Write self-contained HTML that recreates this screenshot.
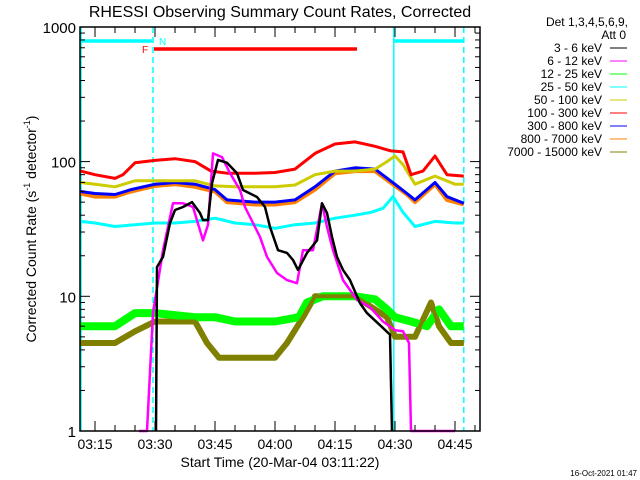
<!DOCTYPE html>
<html><head><meta charset="utf-8"><style>
body{margin:0;background:#fff;}
svg{display:block;font-family:"Liberation Sans",sans-serif;}
</style></head><body>
<svg id="chart" width="640" height="480" viewBox="0 0 640 480" xmlns="http://www.w3.org/2000/svg">
<rect x="0" y="0" width="640" height="480" fill="#fff"/>
<text x="280" y="17" font-size="16" text-anchor="middle" fill="#000">RHESSI Observing Summary Count Rates, Corrected</text>
<text transform="translate(36,229) rotate(-90)" font-size="14" text-anchor="middle" fill="#000">Corrected Count Rate (s<tspan font-size="9" dy="-6">-1</tspan><tspan dy="6"> detector</tspan><tspan font-size="9" dy="-6">-1</tspan><tspan dy="6">)</tspan></text>
<text x="280" y="467" font-size="14" text-anchor="middle" fill="#000">Start Time (20-Mar-04 03:11:22)</text>
<text x="637" y="476" font-size="8" text-anchor="end" fill="#000">16-Oct-2021 01:47</text>
<g id="plot"></g>
<g id="axes"></g>
<g id="legend"></g>
</svg>
<script>
const blackT=[30.25,30.5,32,33.75,35,37,39.25,41.25,42,43.25,44.25,45.75,48,50.5,52,55.5,57.5,58.75,60.75,63,64.5,65.75,68,70.5,71.75,73,74.25,75.5,77,78.75,81.25,83,86.25,88.75,89.25];
const blackV=[1,16.5,19.6,35,43.7,46,50,41.5,36.8,36.8,69,103,98,82,61.5,54.6,46,32.7,22,21,18.6,15.7,21,26,49,41.5,27.6,19.6,15.7,13.2,8.9,7.5,6.1,5.2,1];
const magT=[26,28,29.5,32,34.5,37,39.5,42,43.25,44.5,46.75,48.75,51.25,52.5,54.5,56.25,58,60.5,63,65.5,67,69.5,71.75,73,74.5,77,80.5,83.75,87,90,92,93.5,94,99,105];
const magV=[1,1,7.5,22,49,49,46,26,34,115,108,82,61.5,46,35,27.6,19.6,14.9,13.2,12.5,22,22,49,32.7,22,13.2,9.4,8.3,6.5,5.6,5.5,4.5,1,1,1];
const greenT=[11.4,20,25,30,40,45,50,55,60,66,68,72,80,85,88,90,94,98,101,104,107.2];
const greenV=[6,6,7.5,7.5,7,7,6.5,6.5,6.5,7,9,10,10,9.5,8,7,6.5,6,8,6,6];
const cyanT=[11.4,15,20,25,30,35,40,45,50,55,60,65,70,75,80,84,87,89.5,92,95,100,105,107.2];
const cyanV=[36,35,33,34,35,35,36,38,35,34,32,34,35,38,40,42,45,55,42,33,36,35,35];
const yellowT=[11.4,15,20,25,30,35,40,45,50,55,60,65,70,75,80,85,88,90,92,95,100,105,107.2];
const yellowV=[70,68,65,72,72,72,72,66,65,65,65,67,80,85,85,88,100,110,95,68,78,68,68];
const redT=[11.4,15,20,22,25,30,35,40,44,48,55,60,65,70,75,80,85,89,92,94,97,100,103,107.2];
const redV=[85,80,75,80,98,102,105,100,85,82,82,83,88,115,135,140,130,120,118,80,85,110,80,78];
const blueT=[11.4,15,20,24,30,35,40,45,48,55,60,65,70,75,80,85,90,93,95,100,103,107.2];
const blueV=[60,58,57,62,68,70,68,62,52,50,50,52,65,85,90,88,68,58,52,70,55,49];
const orangeT=[11.4,15,20,24,30,35,40,45,48,55,60,65,70,75,80,85,90,93,95,100,103,107.2];
const orangeV=[58,55,55,60,66,68,65,60,50,48,48,50,62,82,85,85,66,57,50,68,52,48];
const oliveT=[11.4,15,20,25,30,35,40,43,46,50,55,60,63,67,70,75,80,85,88,90,95,99,101,104,107.2];
const oliveV=[4.5,4.5,4.5,5.5,6.5,6.5,6.5,4.5,3.5,3.5,3.5,3.5,4.5,7,10,10,10,8,7,5,5,9,6,4.5,4.5];
const yTickVals=[1,10,100,1000];
const yTickLabels=["1","10","100","1000"];
const xTickMins=[15,30,45,60,75,90,105];
const xTickLabels=["03:15","03:30","03:45","04:00","04:15","04:30","04:45"];
const legendLabels=["3 - 6 keV","6 - 12 keV","12 - 25 keV","25 - 50 keV","50 - 100 keV","100 - 300 keV","300 - 800 keV","800 - 7000 keV","7000 - 15000 keV"];
const legendColors=["#000","#ff00ff","#00ff00","#00ffff","#cccc00","#ff0000","#0000ff","#ff8000","#808000"];

const L=80,R=480,T=27,B=431;
function xs(t){return 95+(t-15)*4;}
function ys(v){return B-134.7*Math.log10(v);}
const NS="http://www.w3.org/2000/svg";
function mk(tag,attrs,parent){const e=document.createElementNS(NS,tag);for(const k in attrs)e.setAttribute(k,attrs[k]);parent.appendChild(e);return e;}
const plot=document.getElementById('plot'),axes=document.getElementById('axes'),legend=document.getElementById('legend');

let e;
e=mk('line',{x1:L+1,y1:T,x2:L+1,y2:B,stroke:'#00ffff','stroke-width':1.5},plot);

e=mk('line',{x1:xs(89.7),y1:T,x2:xs(89.7),y2:B,stroke:'#00ffff','stroke-width':1.5},plot);

e=mk('line',{x1:xs(29.5),y1:T,x2:xs(29.5),y2:B,stroke:'#00ffff','stroke-width':1.5,'stroke-dasharray':'6,4'},plot);

e=mk('line',{x1:xs(107.2),y1:T,x2:xs(107.2),y2:B,stroke:'#00ffff','stroke-width':1.5,'stroke-dasharray':'6,4'},plot);

e=mk('line',{x1:L,y1:41,x2:xs(29.3),y2:41,stroke:'#00ffff','stroke-width':3.5},plot);

e=mk('line',{x1:xs(89.7),y1:41,x2:xs(107.2),y2:41,stroke:'#00ffff','stroke-width':3.5},plot);

e=mk('line',{x1:154,y1:49,x2:357,y2:49,stroke:'#ff0000','stroke-width':3.5},plot);

e=mk('text',{x:159,y:45,'font-size':10,fill:'#00ffff'},plot);e.textContent='N';

e=mk('text',{x:142,y:53,'font-size':10,fill:'#ff0000'},plot);e.textContent='F';


function series(ts,vs,color,w,name){
  const p=ts.map((t,i)=>xs(t).toFixed(1)+','+ys(vs[i]).toFixed(1)).join(' ');
  const el=mk('polyline',{points:p,fill:'none',stroke:color,'stroke-width':w,'stroke-linejoin':'round'},plot);
  
  
}
series(oliveT,oliveV,'#808000',6,'series-7000-15000-kev');
series(greenT,greenV,'#00ff00',8,'series-12-25-kev');
series(oliveT,oliveV,'#808000',4,'series-7000-15000-kev-overlay');
series(cyanT,cyanV,'#00ffff',3,'series-25-50-kev');
series(orangeT,orangeV,'#ff8000',4,'series-800-7000-kev');
series(blueT,blueV,'#0000ff',3,'series-300-800-kev');
series(yellowT,yellowV,'#cccc00',3,'series-50-100-kev');
series(redT,redV,'#ff0000',3,'series-100-300-kev');
series(magT,magV,'#ff00ff',2.5,'series-6-12-kev');
series(blackT,blackV,'#000000',2.5,'series-3-6-kev');

e=mk('rect',{x:L,y:T,width:R-L,height:B-T,fill:'none',stroke:'#000','stroke-width':1.5},axes);

for(let d=0;d<3;d++){for(let m=1;m<10;m++){const v=yTickVals[d]*m;const y=ys(v);const len=m==1?10:5;
  mk('line',{x1:L,y1:y,x2:L+len,y2:y,stroke:'#000'},axes);mk('line',{x1:R,y1:y,x2:R-len,y2:y,stroke:'#000'},axes);}}
yTickVals.forEach((v,i)=>{const t=mk('text',{x:L-4,y:ys(v)+6,'font-size':15,'text-anchor':'end',fill:'#000'},axes);t.textContent=yTickLabels[i];
  });
for(let t=15;t<=110;t+=5){const x=xs(t);if(x>R)break;const len=(t%15==0)?10:6;
  mk('line',{x1:x,y1:B,x2:x,y2:B-len,stroke:'#000'},axes);mk('line',{x1:x,y1:T,x2:x,y2:T+len,stroke:'#000'},axes);}
xTickMins.forEach((t,i)=>{const el=mk('text',{x:xs(t),y:449,'font-size':14,'text-anchor':'middle',fill:'#000'},axes);el.textContent=xTickLabels[i];
  });
e=mk('text',{x:628,y:26,'font-size':12,'text-anchor':'end',fill:'#000'},legend);e.textContent='Det 1,3,4,5,6,9,';

e=mk('text',{x:626,y:39,'font-size':12,'text-anchor':'end',fill:'#000'},legend);e.textContent='Att 0';

legendLabels.forEach((lab,i)=>{const y=48+i*13;
  const tx=mk('text',{x:602,y:y+4,'font-size':12,'text-anchor':'end',fill:'#000'},legend);tx.textContent=lab;
  
  const ln=mk('line',{x1:610,y1:y,x2:627,y2:y,stroke:legendColors[i],'stroke-width':1},legend);
  });
</script>
</body></html>
